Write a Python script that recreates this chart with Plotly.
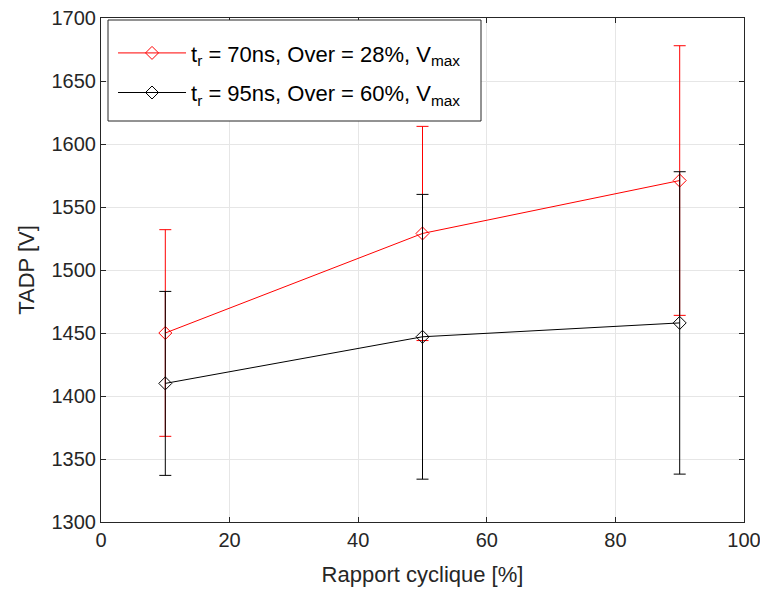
import plotly.graph_objects as go

duty = [10, 50, 90]
red_vals = [1450, 1529, 1571]
red_err = [82, 85, 107]
black_vals = [1410, 1447, 1458]
black_err = [73, 113, 120]
names = ["t<sub>r</sub> = 70ns, Over = 28%, V<sub>max</sub>",
         "t<sub>r</sub> = 95ns, Over = 60%, V<sub>max</sub>"]
x_ticks = [0, 20, 40, 60, 80, 100]
y_ticks = [1300, 1350, 1400, 1450, 1500, 1550, 1600, 1650, 1700]

FONT = "Liberation Sans, Arial"
fig = go.Figure()
fig.add_trace(go.Scatter(
    x=duty, y=red_vals, name=names[0], mode="lines+markers", legendgroup="a",
    line=dict(color="#ff0000", width=1),
    marker=dict(symbol="diamond-open", size=10, color="#ff0000", line=dict(width=1)),
    error_y=dict(type="data", array=red_err, visible=True, color="#ff0000", thickness=1, width=6),
))
fig.add_trace(go.Scatter(
    x=duty, y=black_vals, name=names[1], mode="lines+markers", legendgroup="b",
    line=dict(color="#000000", width=1),
    marker=dict(symbol="diamond-open", size=10, color="#000000", line=dict(width=1)),
    error_y=dict(type="data", array=black_err, visible=True, color="#000000", thickness=1, width=6),
))

axis_common = dict(
    showgrid=True, gridcolor="#e6e6e6", gridwidth=1,
    showline=True, linecolor="#262626", linewidth=1, mirror="ticks",
    ticks="inside", ticklen=5, tickcolor="#262626",
    tickfont=dict(family=FONT, size=20, color="#262626"),
    zeroline=False, automargin=False, ticklabeloverflow="allow",
)
fig.update_xaxes(range=[0, 100], tickvals=x_ticks,
                 title=dict(text="Rapport cyclique [%]", font=dict(family=FONT, size=22, color="#262626"), standoff=16),
                 **axis_common)
fig.update_yaxes(range=[1300, 1700], tickvals=y_ticks,
                 title=dict(text="TADP [V]", font=dict(family=FONT, size=22, color="#262626"), standoff=10),
                 **axis_common)

# legend frame (box drawn as a shape, legend placed inside it)
fig.add_shape(type="rect", xref="paper", yref="paper",
              x0=(108 - 101) / 643, x1=(481 - 101) / 643,
              y0=1 - (121 - 18) / 504, y1=1 - (20 - 18) / 504,
              line=dict(color="#262626", width=1), fillcolor="white", layer="above")

fig.update_layout(
    width=760, height=590,
    margin=dict(l=101, r=16, t=18, b=68),
    plot_bgcolor="white", paper_bgcolor="white",
    legend=dict(x=0.0187, y=0.972, xanchor="left", yanchor="top",
                bgcolor="rgba(0,0,0,0)", borderwidth=0,
                font=dict(family=FONT, size=22, color="#000000"),
                itemwidth=68, tracegroupgap=8),
    showlegend=True,
)
fig.write_html("out.html", config={"displayModeBar": False},
               post_script="document.body.style.margin='0';document.body.style.overflow='hidden';")
